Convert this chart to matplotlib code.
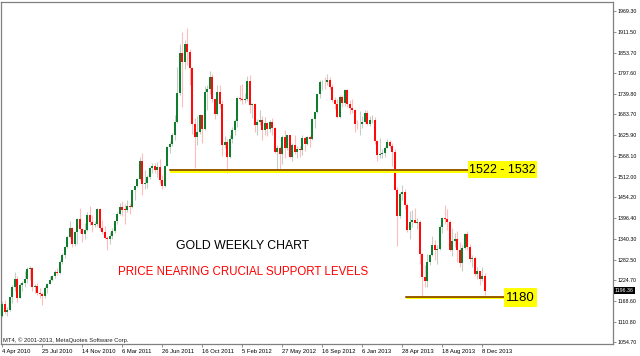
import matplotlib
matplotlib.use("Agg")
import matplotlib.pyplot as plt
import matplotlib.transforms as mtransforms
from matplotlib.patches import Rectangle
import numpy as np

plt.rcParams['font.family'] = ['Liberation Sans', 'DejaVu Sans']

# ---------------- data (weekly gold, Apr 2010 - Dec 2013) ----------------
opens = [
    1126, 1161, 1137, 1143, 1179, 1208, 1228, 1177, 1213, 1219, 1229, 1256, 1258, 1208, 1210, 1190,
    1188, 1181, 1204, 1215, 1227, 1236, 1247, 1246, 1275, 1296, 1318, 1346, 1370, 1325, 1358, 1394,
    1366, 1353, 1363, 1406, 1385, 1379, 1380,
    1421, 1369, 1360, 1343, 1340, 1349, 1362, 1388, 1409, 1429, 1420, 1419, 1431, 1429, 1474, 1486,
    1504, 1556, 1491, 1493, 1511, 1536, 1542, 1530, 1539, 1501, 1486, 1542, 1593, 1601, 1627, 1662,
    1743, 1852, 1828, 1877, 1856, 1813, 1657, 1622, 1636, 1681, 1642, 1746, 1753, 1787, 1725, 1686,
    1746, 1713, 1598, 1606,
    1566, 1617, 1640, 1665, 1730, 1725, 1724, 1725, 1777, 1710, 1712, 1655, 1662, 1668, 1640, 1659,
    1642, 1663, 1645, 1579, 1592, 1573, 1622, 1591, 1626, 1566, 1598, 1579, 1589, 1584, 1618, 1603,
    1621, 1616, 1671, 1691, 1739, 1772, 1773, 1772, 1780, 1758, 1724, 1712, 1677, 1731, 1714, 1751,
    1712, 1702, 1696, 1658,
    1656, 1658, 1662, 1687, 1658, 1667, 1668, 1609, 1572, 1574, 1577, 1592, 1608, 1596, 1581, 1476,
    1404, 1463, 1469, 1434, 1365, 1386, 1392, 1383, 1387, 1297, 1234, 1223, 1277, 1294, 1322, 1310,
    1313, 1372, 1396, 1395, 1387, 1308, 1333, 1338, 1310, 1272, 1315, 1352, 1316, 1285, 1288, 1244,
    1250, 1229, 1236,
]
highs = [
    1167, 1170, 1152, 1180, 1211, 1249, 1238, 1218, 1224, 1251, 1261, 1266, 1262, 1215, 1217, 1204,
    1194, 1209, 1218, 1237, 1241, 1254, 1259, 1280, 1300, 1321, 1348, 1388, 1372, 1361, 1398, 1425,
    1370, 1383, 1415, 1431, 1407, 1388, 1424,
    1424, 1393, 1375, 1349, 1359, 1371, 1390, 1415, 1438, 1445, 1436, 1447, 1440, 1476, 1487, 1509,
    1566, 1577, 1530, 1515, 1537, 1550, 1550, 1552, 1560, 1516, 1545, 1597, 1610, 1632, 1682, 1815,
    1877, 1912, 1890, 1921, 1864, 1815, 1674, 1678, 1684, 1682, 1761, 1766, 1803, 1795, 1727, 1765,
    1764, 1723, 1624, 1616,
    1626, 1649, 1672, 1731, 1764, 1767, 1743, 1790, 1792, 1715, 1714, 1672, 1696, 1680, 1677, 1662,
    1669, 1673, 1649, 1598, 1595, 1627, 1640, 1628, 1628, 1605, 1626, 1596, 1597, 1627, 1625, 1625,
    1627, 1675, 1694, 1740, 1778, 1779, 1787, 1796, 1786, 1768, 1733, 1725, 1737, 1738, 1753, 1755,
    1724, 1725, 1699, 1668,
    1694, 1679, 1696, 1695, 1680, 1683, 1677, 1612, 1619, 1588, 1597, 1616, 1612, 1605, 1587, 1484,
    1470, 1488, 1477, 1440, 1417, 1419, 1424, 1397, 1392, 1300, 1267, 1298, 1298, 1348, 1336, 1324,
    1379, 1400, 1434, 1423, 1392, 1370, 1355, 1362, 1332, 1323, 1355, 1361, 1326, 1295, 1291, 1263,
    1252, 1261, 1246,
]
lows = [
    1124, 1131, 1127, 1140, 1162, 1195, 1166, 1176, 1195, 1207, 1218, 1226, 1197, 1190, 1185, 1177,
    1157, 1175, 1191, 1214, 1223, 1232, 1239, 1243, 1271, 1286, 1315, 1342, 1316, 1319, 1326, 1357,
    1330, 1340, 1361, 1379, 1360, 1373, 1376,
    1363, 1354, 1338, 1309, 1326, 1340, 1356, 1380, 1405, 1402, 1381, 1414, 1409, 1424, 1448, 1483,
    1503, 1462, 1478, 1480, 1506, 1521, 1523, 1511, 1495, 1478, 1482, 1540, 1577, 1597, 1612, 1661,
    1737, 1705, 1808, 1821, 1766, 1630, 1535, 1600, 1629, 1604, 1640, 1695, 1739, 1717, 1671, 1682,
    1702, 1570, 1590, 1523,
    1563, 1605, 1627, 1648, 1721, 1713, 1714, 1722, 1688, 1673, 1635, 1627, 1655, 1612, 1627, 1625,
    1636, 1627, 1576, 1527, 1532, 1547, 1563, 1586, 1562, 1554, 1575, 1564, 1565, 1571, 1583, 1600,
    1593, 1613, 1647, 1688, 1729, 1752, 1755, 1766, 1754, 1718, 1698, 1673, 1673, 1705, 1706, 1705,
    1684, 1688, 1635, 1644,
    1626, 1645, 1659, 1655, 1651, 1659, 1601, 1555, 1562, 1562, 1566, 1590, 1590, 1540, 1474, 1321,
    1398, 1448, 1422, 1358, 1338, 1373, 1383, 1366, 1269, 1180, 1207, 1207, 1268, 1292, 1281, 1270,
    1310, 1355, 1380, 1364, 1307, 1292, 1317, 1277, 1262, 1251, 1311, 1309, 1277, 1261, 1237, 1230,
    1211, 1223, 1185,
]
closes = [
    1161, 1137, 1143, 1179, 1208, 1228, 1177, 1213, 1219, 1229, 1256, 1258, 1208, 1210, 1190, 1188,
    1181, 1204, 1215, 1227, 1236, 1247, 1246, 1275, 1296, 1318, 1346, 1370, 1325, 1358, 1394, 1366,
    1353, 1363, 1406, 1385, 1379, 1380, 1421,
    1369, 1360, 1343, 1340, 1349, 1362, 1388, 1409, 1429, 1420, 1419, 1431, 1429, 1474, 1486, 1504,
    1556, 1491, 1493, 1511, 1536, 1542, 1530, 1539, 1501, 1486, 1542, 1593, 1601, 1627, 1662, 1743,
    1852, 1828, 1877, 1856, 1813, 1657, 1622, 1636, 1681, 1642, 1746, 1753, 1787, 1725, 1686, 1746,
    1713, 1598, 1606, 1566,
    1617, 1640, 1665, 1730, 1725, 1724, 1725, 1777, 1710, 1712, 1655, 1662, 1668, 1640, 1659, 1642,
    1663, 1645, 1579, 1592, 1573, 1622, 1591, 1626, 1566, 1598, 1579, 1589, 1584, 1618, 1603, 1621,
    1616, 1671, 1691, 1739, 1772, 1773, 1772, 1780, 1758, 1724, 1712, 1677, 1731, 1714, 1751, 1712,
    1702, 1696, 1658, 1656,
    1658, 1662, 1687, 1658, 1667, 1668, 1609, 1572, 1574, 1577, 1592, 1608, 1596, 1581, 1476, 1404,
    1463, 1469, 1434, 1365, 1386, 1392, 1383, 1387, 1297, 1234, 1223, 1277, 1294, 1322, 1310, 1313,
    1372, 1396, 1395, 1387, 1308, 1333, 1338, 1310, 1272, 1315, 1352, 1316, 1285, 1288, 1244, 1250,
    1229, 1236, 1196.36,
]

date_labels = ['4 Apr 2010', '25 Jul 2010', '14 Nov 2010', '6 Mar 2011', '26 Jun 2011',
               '16 Oct 2011', '5 Feb 2012', '27 May 2012', '16 Sep 2012', '6 Jan 2013',
               '28 Apr 2013', '18 Aug 2013', '8 Dec 2013']
date_index = [0, 16, 32, 48, 64, 80, 96, 112, 128, 144, 160, 176, 192]
price_ticks = [1969.30, 1911.50, 1853.70, 1797.60, 1739.80, 1683.70, 1625.90, 1568.10,
               1512.00, 1454.20, 1396.40, 1340.30, 1282.50, 1224.70, 1168.60, 1110.80, 1054.70]
last_price = 1196.36
upper_zone = (1522, 1532)
lower_level = 1180
upper_label = '1522 - 1532'
lower_label = '1180'
title_text = 'GOLD WEEKLY CHART'
subtitle_text = 'PRICE NEARING CRUCIAL SUPPORT LEVELS'
copyright_text = 'MT4, \u00a9 2001-2013, MetaQuotes Software Corp.'

# ---------------- figure ----------------
W, H = 640, 356
fig = plt.figure(figsize=(W / 100, H / 100), dpi=100)
fig.patch.set_facecolor('white')
ax = fig.add_axes([1 / W, 12 / H, 612 / W, 342 / H])
ax.set_facecolor('white')

o = np.array(opens, float)
h = np.array(highs, float)
l = np.array(lows, float)
c = np.array(closes, float)
idx = np.arange(len(c))
up = c >= o

ax.vlines(idx[up], l[up], h[up], color='#c4cec4', lw=0.8, zorder=2)
ax.vlines(idx[~up], l[~up], h[~up], color='#ffbcbc', lw=0.8, zorder=2)
bottom = np.minimum(o, c)
height = np.maximum(np.abs(c - o), 2.0)
ax.bar(idx[up], height[up], bottom=bottom[up], width=0.8, color='#0e7d2e', linewidth=0, zorder=3)
ax.bar(idx[~up], height[~up], bottom=bottom[~up], width=0.8, color='#ff0a0a', linewidth=0, zorder=3)

ax.set_xlim(-0.4, 244.4)
ax.set_ylim(1049.2, 1994.2)

# support zone 1522-1532
x0u, x1u = 67.2, 186.4
ax.fill_between([x0u, x1u], upper_zone[0] - 1, upper_zone[1] + 1, color='#ffff00', lw=0, zorder=4)
ax.plot([x0u, x1u], [upper_zone[1] - 1.5] * 2, color='#7a2e00', lw=1.1, zorder=5)
ax.add_patch(Rectangle((x1u, 1507.9), 214.0 - x1u, 1554.9 - 1507.9,
                       facecolor='#ffff00', edgecolor='none', zorder=5))
ax.text((x1u + 214.0) / 2, 1531, upper_label, fontsize=9, ha='center', va='center',
        color='black', zorder=6)

# support level 1180
x0l, x1l = 161.6, 200.8
ax.fill_between([x0l, x1l], lower_level - 6, lower_level + 1, color='#ffff00', lw=0, zorder=4)
ax.plot([x0l, x1l], [lower_level] * 2, color='#7a2e00', lw=1.1, zorder=5)
ax.add_patch(Rectangle((x1l, 1151.4), 214.0 - x1l, 1203.9 - 1151.4,
                       facecolor='#ffff00', edgecolor='none', zorder=5))
ax.text((x1l + 214.0) / 2, 1176, lower_label, fontsize=9.5, ha='center', va='center',
        color='black', zorder=6)

# annotations
ax.text(96.4, 1320, title_text, fontsize=8.8, ha='center', va='center', color='black', zorder=6)
ax.text(96.4, 1248, subtitle_text, fontsize=8.3, ha='center', va='center', color='#ff0000', zorder=6)
ax.text(0.4, 1060, copyright_text, fontsize=4.2, ha='left', va='center', color='#202020', zorder=6)

# axes styling
for sp in ax.spines.values():
    sp.set_color('#808080')
    sp.set_linewidth(0.9)

ax.yaxis.tick_right()
ax.set_yticks(price_ticks)
ax.set_yticklabels([f'{v:.2f}' for v in price_ticks])
ax.tick_params(axis='y', direction='out', length=2, width=0.6, colors='#808080',
               labelcolor='black', labelsize=3.8, pad=1.5)

ax.set_xticks(date_index)
ax.set_xticklabels(date_labels)
ax.tick_params(axis='x', direction='out', length=2.5, width=0.6, colors='#808080',
               labelcolor='black', labelsize=4.2, pad=1.2)
for lbl in ax.get_xticklabels():
    lbl.set_horizontalalignment('left')

# current price tag
trans = mtransforms.blended_transform_factory(ax.transAxes, ax.transData)
ax.text(1.003, last_price, f'{last_price:.2f}', transform=trans, fontsize=3.8, color='white',
        ha='left', va='center', clip_on=False, zorder=7,
        bbox=dict(facecolor='black', edgecolor='none', pad=0.8))

fig.savefig('out.png', dpi=100, facecolor='white')
